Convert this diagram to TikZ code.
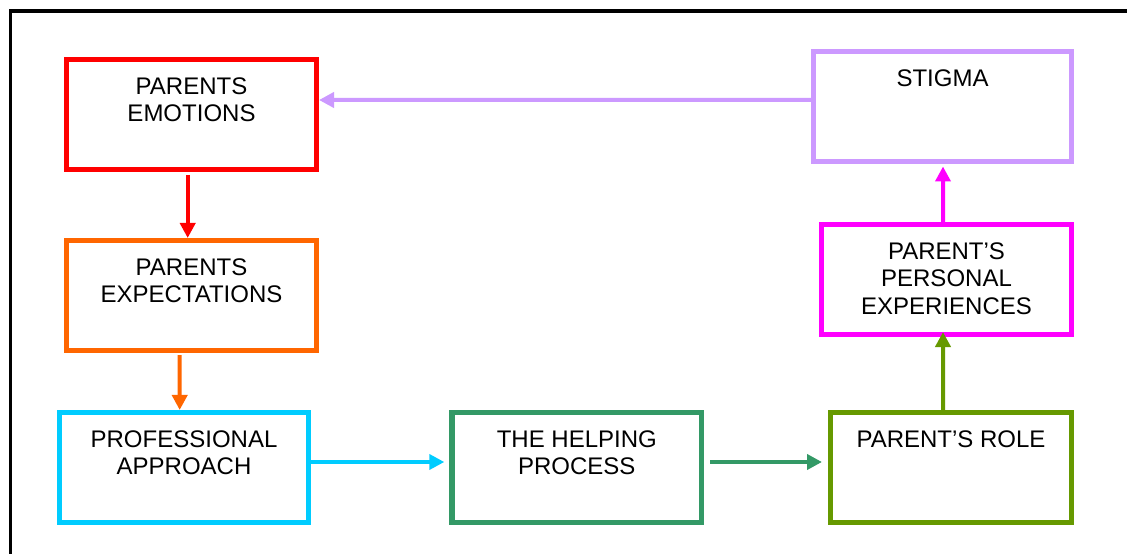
\documentclass[tikz,border=0pt]{standalone}
\usepackage{fontspec}
\setmainfont{Liberation Sans}
\usetikzlibrary{arrows.meta}
\definecolor{cRed}{HTML}{FF0000}
\definecolor{cOrange}{HTML}{FF6600}
\definecolor{cCyan}{HTML}{00CCFF}
\definecolor{cGreen}{HTML}{339966}
\definecolor{cOlive}{HTML}{669900}
\definecolor{cMagenta}{HTML}{FF00FF}
\definecolor{cLav}{HTML}{CC99FF}
\begin{document}
\begin{tikzpicture}[x=1bp,y=-1bp,
  boxnode/.style={draw=#1, line width=5.3bp, minimum height=109.7bp, inner sep=0pt, rectangle},
  txt/.style={anchor=north, align=center, inner sep=0pt, font=\fontsize{24bp}{27.7bp}\selectfont},
  arr/.style={line width=4bp, -{Triangle[length=15bp,width=15bp]}}]
\useasboundingbox (0,0) rectangle (1127,554);
\fill[white] (0,0) rectangle (1127,554);
% frame
\draw[line width=3.5bp] (10.7,554) -- (10.7,11) -- (1127,11);
% boxes
\node[boxnode=cRed, minimum width=249.7bp] (emo) at (191.5,114.5) {};
\node[boxnode=cOrange, minimum width=249.7bp] (exp) at (191.5,295.5) {};
\node[boxnode=cCyan, minimum width=248.7bp] (prof) at (184,467.5) {};
\node[boxnode=cGreen, minimum width=249.7bp] (help) at (576.8,467.5) {};
\node[boxnode=cOlive, minimum width=240.7bp] (role) at (951,467.5) {};
\node[boxnode=cMagenta, minimum width=249.7bp] (pers) at (946.5,279.5) {};
\node[boxnode=cLav, minimum width=257.7bp] (stig) at (942.5,106.5) {};
% texts
\node[txt] (temo) at ([yshift=-20.2bp]emo.north) {PARENTS\\EMOTIONS};
\node[txt] (texp) at ([yshift=-20.2bp]exp.north) {PARENTS\\EXPECTATIONS};
\node[txt] (tprof) at ([yshift=-20.2bp]prof.north) {PROFESSIONAL\\APPROACH};
\node[txt] (thelp) at ([yshift=-20.2bp]help.north) {THE HELPING\\PROCESS};
\node[txt] (trole) at ([yshift=-20.2bp]role.north) {PARENT’S ROLE};
\node[txt] (tpers) at ([yshift=-20.2bp]pers.north) {PARENT’S\\PERSONAL\\EXPERIENCES};
\node[txt] (tstig) at ([yshift=-20.2bp]stig.north) {STIGMA};
% arrows
\draw[arr, cRed] ([xshift=-3.8bp, yshift=-3bp]emo.south) -- ([xshift=-3.8bp]exp.north);
\draw[arr, cOrange] ([xshift=-11.8bp, yshift=-2bp]exp.south) -- ([xshift=-4.3bp]prof.north);
\draw[arr, cCyan, shorten >=5bp] ([yshift=5.5bp]prof.east) -- ([yshift=5.5bp]help.west);
\draw[arr, cGreen, shorten >=6bp] ([xshift=6bp, yshift=5.5bp]help.east) -- ([yshift=5.5bp]role.west);
\draw[arr, cOlive, shorten >=-5bp] ([xshift=-8bp]role.north) -- ([xshift=-3.5bp]pers.south);
\draw[arr, cMagenta, shorten >=2.5bp] ([xshift=-3.5bp]pers.north) -- ([xshift=0.5bp]stig.south);
\draw[arr, cLav] ([yshift=6.5bp]stig.west) -- ([yshift=14.5bp]emo.east);
\end{tikzpicture}
\end{document}
